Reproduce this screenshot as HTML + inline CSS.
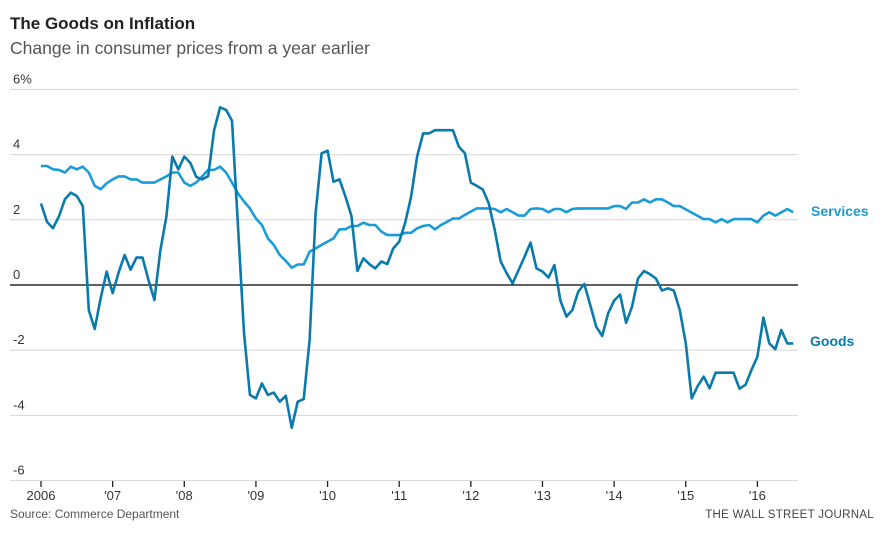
<!DOCTYPE html>
<html><head><meta charset="utf-8"><style>
body{margin:0;background:#fff;width:884px;height:530px;overflow:hidden;font-family:"Liberation Sans",sans-serif}
</style></head><body>
<svg width="884" height="530" viewBox="0 0 884 530" xmlns="http://www.w3.org/2000/svg">
<text x="10" y="29" font-size="17" font-weight="bold" fill="#222">The Goods on Inflation</text>
<text x="10" y="54" font-size="17.5" fill="#555">Change in consumer prices from a year earlier</text>
<g id="grid"></g>
<g id="xaxis"></g>
<g id="series"></g>
<text x="811" y="216" font-size="14" font-weight="bold" fill="#1a9cd8">Services</text>
<text x="810" y="346" font-size="14" font-weight="bold" fill="#0a7aad">Goods</text>
<text x="10" y="518" font-size="12" fill="#555">Source: Commerce Department</text>
<text x="874" y="518" font-size="11.5" fill="#444" text-anchor="end" letter-spacing="0.3">THE WALL STREET JOURNAL</text>
</svg>
<script>
const yTicks=[6,4,2,0,-2,-4,-6];
const yLabels=["6%","4","2","0","-2","-4","-6"];
const xYears=[0,1,2,3,4,5,6,7,8,9,10];
const xLabels=["2006","'07","'08","'09","'10","'11","'12","'13","'14","'15","'16"];
const goods=[2.5,1.94,1.74,2.1,2.63,2.83,2.73,2.42,-0.77,-1.35,-0.4,0.41,-0.25,0.38,0.92,0.47,0.84,0.84,0.15,-0.46,1.07,2.1,3.94,3.55,3.94,3.75,3.32,3.24,3.34,4.75,5.45,5.37,5.04,1.8,-1.47,-3.37,-3.48,-3.02,-3.37,-3.3,-3.58,-3.4,-4.38,-3.58,-3.5,-1.69,2.2,4.04,4.12,3.17,3.24,2.71,2.12,0.43,0.82,0.64,0.51,0.72,0.64,1.12,1.33,1.91,2.71,3.94,4.65,4.65,4.75,4.75,4.75,4.75,4.24,4.04,3.14,3.04,2.93,2.5,1.69,0.72,0.36,0.05,0.46,0.87,1.3,0.51,0.41,0.23,0.61,-0.48,-0.97,-0.77,-0.2,0.03,-0.61,-1.28,-1.56,-0.87,-0.48,-0.29,-1.16,-0.67,0.2,0.43,0.33,0.2,-0.17,-0.1,-0.17,-0.77,-1.79,-3.48,-3.1,-2.81,-3.17,-2.69,-2.69,-2.69,-2.69,-3.18,-3.06,-2.61,-2.2,-1.0,-1.79,-1.97,-1.38,-1.79,-1.79];
const services=[3.65,3.65,3.55,3.53,3.45,3.63,3.55,3.63,3.45,3.04,2.94,3.12,3.24,3.33,3.33,3.24,3.24,3.14,3.14,3.14,3.24,3.33,3.45,3.45,3.14,3.04,3.14,3.33,3.53,3.53,3.63,3.45,3.14,2.81,2.56,2.35,2.04,1.84,1.43,1.23,0.92,0.74,0.53,0.63,0.63,1.02,1.12,1.23,1.33,1.43,1.71,1.71,1.81,1.81,1.91,1.84,1.84,1.64,1.53,1.53,1.53,1.6,1.6,1.74,1.81,1.84,1.71,1.84,1.94,2.04,2.04,2.15,2.25,2.35,2.35,2.35,2.33,2.23,2.33,2.23,2.13,2.13,2.33,2.35,2.33,2.23,2.33,2.33,2.23,2.33,2.35,2.35,2.35,2.35,2.35,2.35,2.42,2.42,2.33,2.53,2.53,2.63,2.53,2.63,2.63,2.53,2.42,2.42,2.32,2.22,2.12,2.02,2.02,1.92,2.02,1.92,2.02,2.02,2.02,2.02,1.92,2.13,2.23,2.13,2.23,2.33,2.23];
const NS="http://www.w3.org/2000/svg";
const y=v=>285-v*32.6;
const x=m=>41+m*5.97;
function mk(tag,attrs,parent){const e=document.createElementNS(NS,tag);for(const k in attrs)e.setAttribute(k,attrs[k]);parent.appendChild(e);return e;}
const grid=document.getElementById('grid');
yTicks.forEach((t,i)=>{
  const l=mk('line',{x1:10,x2:798,y1:y(t),y2:y(t),stroke:t===0?'#000':'#d6d6d6','stroke-width':t===0?1.2:1},grid);
  
  
  const tx=mk('text',{x:13,y:y(t)-6,'font-size':13,fill:'#333'},grid);
  tx.textContent=yLabels[i];
  
  
});
const xa=document.getElementById('xaxis');
xYears.forEach((yr,i)=>{
  const px=x(yr*12);
  const tk=mk('line',{x1:px,x2:px,y1:481,y2:487,stroke:'#222','stroke-width':1.3},xa);
  
  
  const tx=mk('text',{x:px,y:500,'font-size':13,fill:'#333','text-anchor':'middle'},xa);
  tx.textContent=xLabels[i];
  
  
});
const sg=document.getElementById('series');
function line(data){return data.map((v,i)=>(i?'L':'M')+x(i).toFixed(1)+','+y(v).toFixed(1)).join('');}
const ps=mk('path',{d:line(services),fill:'none',stroke:'#1a9cd8','stroke-width':2.6,'stroke-linejoin':'round'},sg);


const pg=mk('path',{d:line(goods),fill:'none',stroke:'#0a7aad','stroke-width':2.6,'stroke-linejoin':'round'},sg);


</script>
</body></html>
